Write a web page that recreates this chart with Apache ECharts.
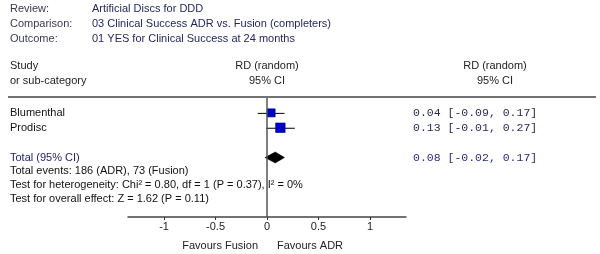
<!DOCTYPE html>
<html>
<head>
<meta charset="utf-8">
<script src="https://cdn.jsdelivr.net/npm/echarts@6/dist/echarts.min.js"></script>
<style>
  html, body { margin: 0; padding: 0; background: #fff; }
  #main { width: 600px; height: 254px; }
</style>
</head>
<body>
<div id="main"></div>
<script>
// header block
var titleLabels = ['Review:', 'Comparison:', 'Outcome:'];
var titleValues = ['Artificial Discs for DDD', '03 Clinical Success ADR vs. Fusion (completers)', '01 YES for Clinical Success at 24 months'];
var colHeaders = ['RD (random)', '95% CI'];

// studies
var studies = ['Blumenthal', 'Prodisc'];
var rd = [0.04, 0.13];
var ciLow = [-0.09, -0.01];
var ciHigh = [0.17, 0.27];
var weights = [42, 58];

// pooled
var totalLabel = 'Total (95% CI)';
var totalRd = 0.08;
var totalLow = -0.02;
var totalHigh = 0.17;
var footLines = [
  'Total events: 186 (ADR), 73 (Fusion)',
  'Test for heterogeneity: Chi² = 0.80, df = 1 (P = 0.37), I² = 0%',
  'Test for overall effect: Z = 1.62 (P = 0.11)'
];

var xTicks = [-1, -0.5, 0, 0.5, 1];
var favours = ['Favours Fusion', 'Favours ADR'];

var FONT = 'Liberation Sans';
var studyRows = [1, 2];
var totalRow = 4;

function ciText(e, l, h) {
  return e.toFixed(2) + ' [' + l.toFixed(2) + ', ' + h.toFixed(2) + ']';
}

var leftText = {};
var rightText = {};
studies.forEach(function (s, i) {
  leftText[studyRows[i]] = '{s|' + s + '}';
  rightText[studyRows[i]] = '{s|' + ciText(rd[i], ciLow[i], ciHigh[i]) + '}';
});
leftText[totalRow] = '{t|' + totalLabel + '}';
rightText[totalRow] = '{t|' + ciText(totalRd, totalLow, totalHigh) + '}';

var studyData = studies.map(function (s, i) {
  return [rd[i], studyRows[i], ciLow[i], ciHigh[i], weights[i]];
});

var chart = echarts.init(document.getElementById('main'));

var option = {
  backgroundColor: '#fff',
  animation: false,
  grid: { left: 128, right: 194, top: 98, bottom: 37 },
  xAxis: {
    type: 'value',
    min: -1.35,
    max: 1.35,
    splitLine: { show: false },
    axisLine: { show: true, onZero: false, lineStyle: { color: '#444', width: 1.5 } },
    axisTick: { show: true, customValues: xTicks, length: 3, lineStyle: { color: '#333' } },
    axisLabel: {
      customValues: xTicks, color: '#222', fontFamily: FONT, fontSize: 11, margin: 4
    }
  },
  yAxis: [{
    type: 'value',
    min: 0, max: 8, interval: 1, inverse: true,
    position: 'left',
    axisLine: { show: false }, axisTick: { show: false }, splitLine: { show: false },
    axisLabel: {
      align: 'left', margin: 118,
      formatter: function (v) { return leftText[v] || ''; },
      rich: {
        s: { color: '#111', fontFamily: FONT, fontSize: 11 },
        t: { color: '#24246e', fontFamily: FONT, fontSize: 11 }
      }
    }
  }, {
    type: 'value',
    min: 0, max: 8, interval: 1, inverse: true,
    position: 'right',
    axisLine: { show: false }, axisTick: { show: false }, splitLine: { show: false },
    axisLabel: {
      align: 'left', margin: 7,
      formatter: function (v) { return rightText[v] || ''; },
      rich: {
        s: { color: '#2a2a55', fontFamily: 'Liberation Mono', fontSize: 11.5 },
        t: { color: '#2a2a88', fontFamily: 'Liberation Mono', fontSize: 11.5 }
      }
    }
  }],
  series: [{
    type: 'custom',
    data: studyData,
    renderItem: function (params, api) {
      var row = api.value(1);
      var pLo = api.coord([api.value(2), row]);
      var pHi = api.coord([api.value(3), row]);
      var pE = api.coord([api.value(0), row]);
      var s = Math.sqrt(api.value(4)) * 1.25;
      return {
        type: 'group',
        children: [{
          type: 'line',
          shape: { x1: pLo[0], y1: pLo[1] + 0.5, x2: pHi[0], y2: pHi[1] + 0.5 },
          style: { stroke: '#000', lineWidth: 1 }
        }, {
          type: 'rect',
          shape: { x: pE[0] - s / 2, y: pE[1] - s / 2, width: s, height: s },
          style: { fill: '#0000cc', stroke: '#00007a', lineWidth: 0.6 }
        }]
      };
    },
    markLine: {
      silent: true,
      symbol: 'none',
      label: { show: false },
      lineStyle: { color: '#555', type: 'solid', width: 1.5 },
      data: [{ xAxis: 0 }]
    },
    z: 3
  }, {
    type: 'custom',
    data: [[totalRd, totalRow, totalLow, totalHigh]],
    renderItem: function (params, api) {
      var row = api.value(1);
      var pLo = api.coord([api.value(2), row]);
      var pHi = api.coord([api.value(3), row]);
      var pE = api.coord([api.value(0), row]);
      var h = 5.5;
      return {
        type: 'polygon',
        shape: { points: [[pLo[0], pLo[1]], [pE[0], pE[1] - h], [pHi[0], pHi[1]], [pE[0], pE[1] + h]] },
        style: { fill: '#000', stroke: '#000', lineWidth: 0.5 }
      };
    },
    z: 4
  }]
};

chart.setOption(option);

// text blocks positioned around the plot
var x0 = chart.convertToPixel({ xAxisIndex: 0 }, 0);
var graphics = [];
titleLabels.forEach(function (t, i) {
  graphics.push({ type: 'text', left: 10, top: 3 + i * 15,
    style: { text: t, fill: '#3a3a55', font: '11px "' + FONT + '"' } });
  graphics.push({ type: 'text', left: 92, top: 3 + i * 15,
    style: { text: titleValues[i], fill: '#262663', font: '11px "' + FONT + '"' } });
});
graphics.push({ type: 'text', left: 10, top: 60, style: { text: 'Study', fill: '#222', font: '11px "' + FONT + '"' } });
graphics.push({ type: 'text', left: 10, top: 75, style: { text: 'or sub-category', fill: '#222', font: '11px "' + FONT + '"' } });
[x0, 495].forEach(function (cx) {
  colHeaders.forEach(function (h, i) {
    graphics.push({ type: 'text', x: cx, y: 66 + i * 15,
      style: { text: h, fill: '#222', font: '11px "' + FONT + '"', align: 'center', verticalAlign: 'middle' } });
  });
});
footLines.forEach(function (t, i) {
  graphics.push({ type: 'text', x: 10, y: 171 + i * 14, z: 1,
    style: { text: t, fill: '#111', font: '11px "' + FONT + '"', verticalAlign: 'middle' } });
});
graphics.push({ type: 'line', shape: { x1: 8, y1: 97, x2: 596, y2: 97 }, style: { stroke: '#444', lineWidth: 1.5 } });
graphics.push({ type: 'text', x: x0 - 9, y: 246,
  style: { text: favours[0], fill: '#222', font: '11px "' + FONT + '"', align: 'right', verticalAlign: 'middle' } });
graphics.push({ type: 'text', x: x0 + 10, y: 246,
  style: { text: favours[1], fill: '#222', font: '11px "' + FONT + '"', align: 'left', verticalAlign: 'middle' } });

chart.setOption({ graphic: graphics });
</script>
</body>
</html>
